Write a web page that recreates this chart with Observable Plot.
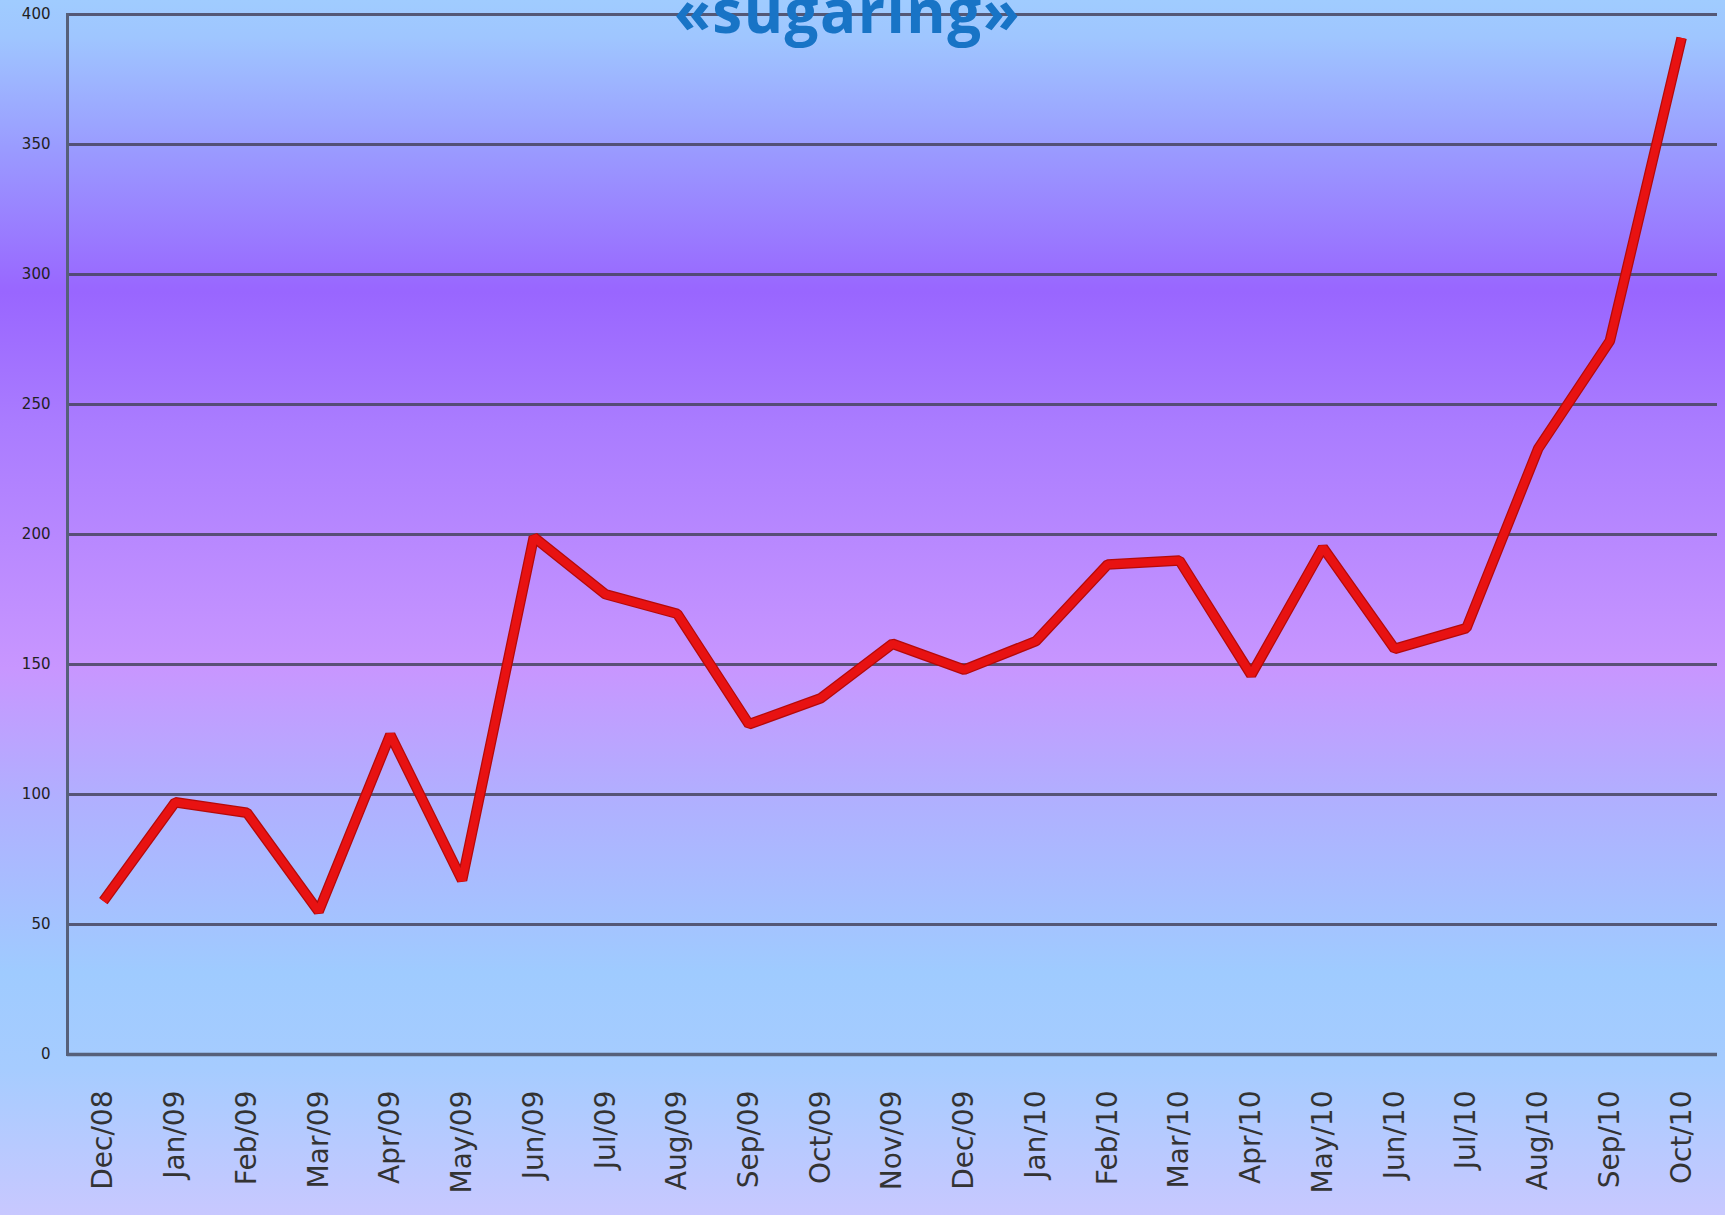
<!DOCTYPE html>
<html>
<head>
<meta charset="utf-8">
<script src="https://cdn.jsdelivr.net/npm/d3@7"></script>
<script src="https://cdn.jsdelivr.net/npm/@observablehq/plot@0.6"></script>
<style>
  html, body { margin: 0; padding: 0; }
  body {
    width: 1725px; height: 1215px; overflow: hidden; position: relative;
    background: linear-gradient(to bottom,
      #a0ccff 0%, #9fc6ff 3%, #9a9cff 12%, #9966ff 24%, #aa7cff 35%,
      #c896ff 55%, #b0b0ff 66%, #9fcbff 80%, #a6ccff 88%, #c8c8ff 100%);
  }
  #title {
    position: absolute; left: 0; width: 1725px; top: -20px;
    text-align: center;
    font-family: "Open Sans", sans-serif; font-weight: 700;
    font-size: 60px; line-height: 1; letter-spacing: 1.5px;
    color: #1874c6; z-index: 2;
  }
  #chart { position: absolute; left: 0; top: 0; }
  #title span { position: relative; left: -15px; }
</style>
</head>
<body>
<div id="chart"></div>
<div id="title"><span>«sugaring»</span></div>
<script>
const months = ["Dec/08","Jan/09","Feb/09","Mar/09","Apr/09","May/09","Jun/09","Jul/09","Aug/09","Sep/09","Oct/09","Nov/09","Dec/09","Jan/10","Feb/10","Mar/10","Apr/10","May/10","Jun/10","Jul/10","Aug/10","Sep/10","Oct/10"];
const values = [59, 97, 93, 55, 123, 67, 199, 177, 169.5, 127, 137, 158, 148, 159, 188.5, 190, 146, 195, 156, 164, 233, 274.5, 391];
const yTicks = [0, 50, 100, 150, 200, 250, 300, 350, 400];

const data = months.map((m, i) => ({month: m, value: values[i]}));

const chart = Plot.plot({
  width: 1725,
  height: 1215,
  marginLeft: 67,
  marginRight: 8,
  marginTop: 14,
  marginBottom: 161,
  style: {background: "transparent", overflow: "visible"},
  x: {type: "point", domain: months, padding: 0.5, round: false, label: null},
  y: {domain: [0, 400], label: null},
  marks: [
    Plot.ruleY(yTicks.filter(d => d > 0), {stroke: "#46445e", strokeWidth: 2.8, strokeOpacity: 0.85}),
    Plot.ruleY([0], {stroke: "#56607a", strokeWidth: 3.5}),
    Plot.frame({anchor: "left", stroke: "#56607a", strokeWidth: 3}),
    Plot.axisY({
      ticks: yTicks, tickSize: 0, tickPadding: 17, label: null,
      fontSize: 15, fill: "#222", fontFamily: "DejaVu Sans", letterSpacing: 1.5
    }),
    Plot.axisX({
      tickSize: 0, tickRotate: -90, tickPadding: 36, label: null,
      fontSize: 28, fill: "#333", fontFamily: "DejaVu Sans"
    }),
    Plot.line(data, {
      x: "month", y: "value",
      stroke: "#b40a0a", strokeWidth: 10.5, strokeLinejoin: "miter", strokeLinecap: "butt"
    }),
    Plot.line(data, {
      x: "month", y: "value",
      stroke: "#e81212", strokeWidth: 8, strokeLinejoin: "miter", strokeLinecap: "butt"
    })
  ]
});
document.getElementById("chart").appendChild(chart);
</script>
</body>
</html>
